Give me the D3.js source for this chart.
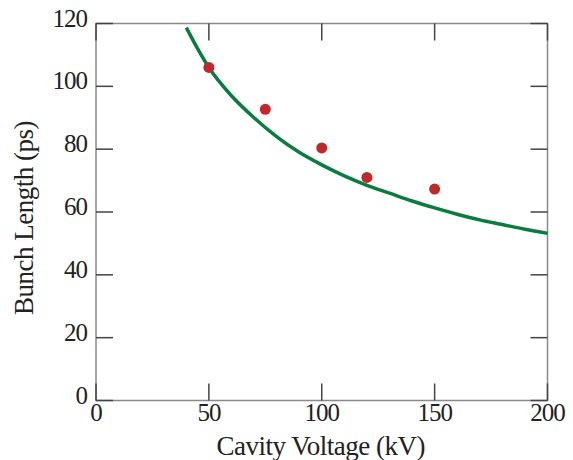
<!DOCTYPE html>
<html>
<head>
<meta charset="utf-8">
<script src="https://cdn.jsdelivr.net/npm/d3@7"></script>
<style>
  body { margin: 0; background: #fff; }
  svg text { font-family: "Liberation Serif", "DejaVu Serif", serif; fill: #222; }
</style>
</head>
<body>
<div id="chart"></div>
<script>
// measured bunch lengths
const measV = [50, 75, 100, 120, 150];
const measL = [106, 92.7, 80.4, 71, 67.3];

// theory curve
const curveV = [40, 45, 50, 60, 70, 80, 90, 100, 110, 120, 130, 140, 150, 160, 170, 180, 190, 200];
const curveL = [118.7, 112, 106, 97, 90, 84, 79, 75, 71.5, 68.5, 66, 63.5, 61.3, 59.3, 57.5, 56, 54.5, 53.2];

const xTicks = [0, 50, 100, 150, 200];
const yTicks = [0, 20, 40, 60, 80, 100, 120];

const width = 573;
const height = 460;
const padLeft = 96, padRight = 547.5, padTop = 23.5, padBottom = 400.5;
const tickLen = 17;

const x = d3.scaleLinear().domain([0, 200]).range([padLeft, padRight]);
const y = d3.scaleLinear().domain([0, 120]).range([padBottom, padTop]);

const svg = d3.select("#chart")
              .append("svg")
              .attr("width", width)
              .attr("height", height);

// frame
svg.append("rect")
   .attr("x", padLeft).attr("y", padTop)
   .attr("width", padRight - padLeft).attr("height", padBottom - padTop)
   .attr("fill", "none")
   .attr("stroke", "#8a8a8a")
   .attr("stroke-width", 1.5);

// inward ticks on all four sides
const tickColor = "#444";
svg.selectAll(".xt-b").data(xTicks).enter().append("line")
   .attr("x1", d => x(d)).attr("x2", d => x(d))
   .attr("y1", padBottom).attr("y2", padBottom - tickLen)
   .attr("stroke", tickColor).attr("stroke-width", 1.5);
svg.selectAll(".xt-t").data(xTicks).enter().append("line")
   .attr("x1", d => x(d)).attr("x2", d => x(d))
   .attr("y1", padTop).attr("y2", padTop + tickLen)
   .attr("stroke", tickColor).attr("stroke-width", 1.5);
svg.selectAll(".yt-l").data(yTicks).enter().append("line")
   .attr("x1", padLeft).attr("x2", padLeft + tickLen)
   .attr("y1", d => y(d)).attr("y2", d => y(d))
   .attr("stroke", tickColor).attr("stroke-width", 1.5);
svg.selectAll(".yt-r").data(yTicks).enter().append("line")
   .attr("x1", padRight).attr("x2", padRight - tickLen)
   .attr("y1", d => y(d)).attr("y2", d => y(d))
   .attr("stroke", tickColor).attr("stroke-width", 1.5);

// tick labels
svg.selectAll(".xl").data(xTicks).enter().append("text")
   .attr("x", d => x(d))
   .attr("y", 421)
   .attr("text-anchor", "middle")
   .attr("font-size", 25)
   .attr("letter-spacing", -1)
   .text(d => d);
svg.selectAll(".yl").data(yTicks).enter().append("text")
   .attr("x", 87)
   .attr("y", d => y(d) + 3)
   .attr("text-anchor", "end")
   .attr("font-size", 25)
   .attr("letter-spacing", -1)
   .text(d => d);

// axis titles
svg.append("text")
   .attr("x", (padLeft + padRight) / 2 - 1)
   .attr("y", 455)
   .attr("text-anchor", "middle")
   .attr("font-size", 27)
   .attr("letter-spacing", -0.5)
   .text("Cavity Voltage (kV)");
svg.append("text")
   .attr("transform", "translate(33," + 218 + ") rotate(-90)")
   .attr("text-anchor", "middle")
   .attr("font-size", 27)
   .attr("letter-spacing", -0.5)
   .text("Bunch Length (ps)");

// theory curve
const line = d3.line()
               .x(d => x(d[0]))
               .y(d => y(d[1]))
               .curve(d3.curveMonotoneX);
svg.append("path")
   .datum(curveV.map((v, i) => [v, curveL[i]]))
   .attr("d", line)
   .attr("fill", "none")
   .attr("stroke", "#0a7d3e")
   .attr("stroke-width", 3.5);

// measurements
svg.selectAll(".pt").data(measV).enter().append("circle")
   .attr("cx", d => x(d))
   .attr("cy", (d, i) => y(measL[i]))
   .attr("r", 5.5)
   .attr("fill", "#c0292b");
</script>
</body>
</html>
